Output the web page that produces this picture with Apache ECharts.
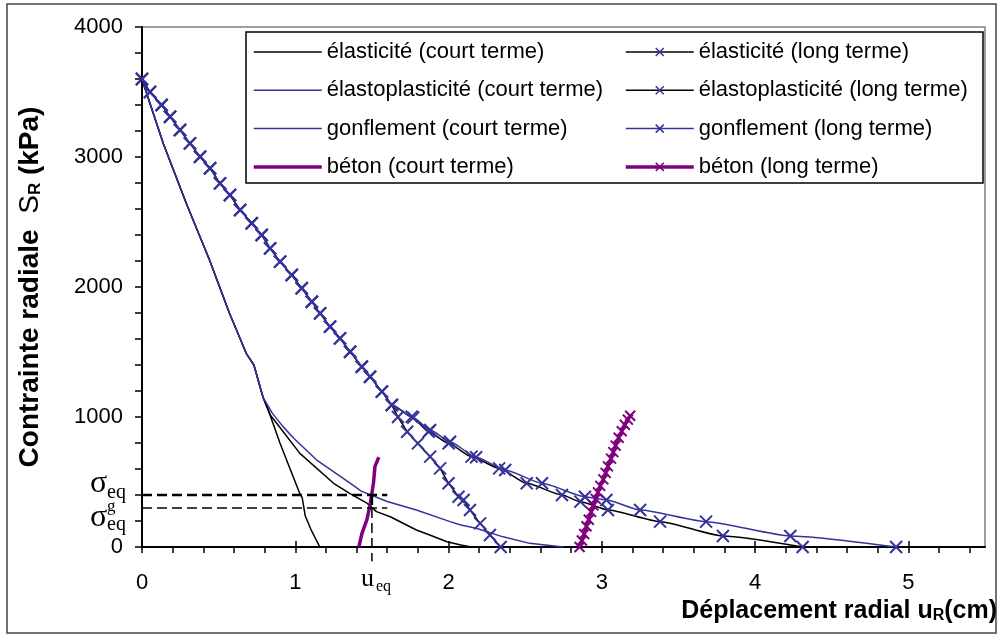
<!DOCTYPE html>
<html><head><meta charset="utf-8">
<script src="https://cdn.jsdelivr.net/npm/echarts@6/dist/echarts.min.js"></script>
<style>html,body{margin:0;padding:0;background:#fff}#c{width:1000px;height:637px}</style>
</head><body><div id="c"></div>
<script>
// ---------- data ----------
const seriesNames = [
  'élasticité (court terme)', 'élastoplasticité (court terme)', 'gonflement (court terme)', 'béton (court terme)',
  'élasticité (long terme)', 'élastoplasticité (long terme)', 'gonflement (long terme)', 'béton (long terme)'
];
const elasCourt = [[0,3600],[0.05,3420],[0.14,3100],[0.29,2640],[0.44,2210],[0.57,1800],[0.68,1490],[0.73,1400],[0.79,1150],[0.84,1000],[0.9,800],[0.96,620],[1.03,410],[1.045,380],[1.065,240],[1.1,140],[1.16,0]];
const elastoCourt = [[0,3600],[0.05,3420],[0.14,3100],[0.29,2640],[0.44,2210],[0.57,1800],[0.68,1490],[0.73,1400],[0.79,1150],[0.84,1010],[0.88,950],[1.03,720],[1.25,490],[1.36,408],[1.47,336],[1.53,272],[1.62,233],[1.79,131],[1.86,100],[1.99,40],[2.08,15],[2.15,0]];
const gonfCourt = [[0,3600],[0.05,3420],[0.14,3100],[0.29,2640],[0.44,2210],[0.57,1800],[0.68,1490],[0.73,1400],[0.79,1150],[0.85,1030],[0.92,926],[0.99,836],[1.14,669],[1.36,490],[1.43,430],[1.6,350],[1.79,285],[2.01,195],[2.08,169],[2.18,144],[2.35,80],[2.53,28],[2.75,0]];
const betonCourt = [[1.415,0],[1.435,105],[1.467,208],[1.49,336],[1.51,490],[1.52,620],[1.545,690]];
const elasLong = [[0,3600],[0.052,3500],[0.128,3400],[0.183,3310],[0.248,3208],[0.313,3105],[0.379,3002],[0.444,2913],[0.509,2797],[0.574,2708],[0.640,2592],[0.716,2490],[0.781,2400],[0.836,2297],[0.901,2195],[0.977,2092],[1.042,1990],[1.108,1887],[1.162,1797],[1.227,1695],[1.292,1605],[1.358,1502],[1.434,1387],[1.488,1310],[1.565,1195],[1.630,1092],[1.67,1000],[1.73,887],[1.80,797],[1.88,695],[1.945,605],[2.0,490],[2.065,387],[2.098,362],[2.14,285],[2.206,182],[2.27,92],[2.34,0]];
const elastoLong = [[0,3600],[0.052,3500],[0.128,3400],[0.183,3310],[0.248,3208],[0.313,3105],[0.379,3002],[0.444,2913],[0.509,2797],[0.574,2708],[0.640,2592],[0.716,2490],[0.781,2400],[0.836,2297],[0.901,2195],[0.977,2092],[1.042,1990],[1.108,1887],[1.162,1797],[1.227,1695],[1.292,1605],[1.358,1502],[1.434,1387],[1.488,1310],[1.565,1195],[1.630,1092],[1.76,1003],[1.87,887],[2.0,797],[2.15,695],[2.33,605],[2.51,490],[2.74,400],[2.86,349],[3.04,285],[3.38,195],[3.79,85],[4.31,0]];
const gonfLong = [[0,3600],[0.052,3500],[0.128,3400],[0.183,3310],[0.248,3208],[0.313,3105],[0.379,3002],[0.444,2913],[0.509,2797],[0.574,2708],[0.640,2592],[0.716,2490],[0.781,2400],[0.836,2297],[0.901,2195],[0.977,2092],[1.042,1990],[1.108,1887],[1.162,1797],[1.227,1695],[1.292,1605],[1.358,1502],[1.434,1387],[1.488,1310],[1.565,1195],[1.630,1092],[1.77,995],[1.88,900],[2.01,810],[2.18,690],[2.37,592],[2.61,490],[2.89,387],[3.03,362],[3.25,285],[3.68,195],[4.23,85],[4.92,0]];
const betonLong = [[2.855,0],[2.87,50],[2.885,100],[2.9,160],[2.915,210],[2.93,270],[2.945,320],[2.96,370],[2.975,420],[2.99,470],[3.01,520],[3.025,570],[3.04,620],[3.06,680],[3.075,730],[3.09,780],[3.11,840],[3.13,890],[3.15,940],[3.17,980],[3.185,1010]];
const sigmaEq = 400, sigmaEqG = 300, uEq = 1.5, guideEnd = 1.6, guideBelow = -110;
const xTickValues = [0,0.2,0.4,0.6,0.8,1,1.2,1.4,1.6,1.8,2,2.2,2.4,2.6,2.8,3,3.2,3.4,3.6,3.8,4,4.2,4.4,4.6,4.8,5,5.2,5.4];
const xLabelValues = [0,1,2,3,4,5];
const yTickValues = [0,200,400,600,800,1000,1200,1400,1600,1800,2000,2200,2400,2600,2800,3000,3200,3400,3600,3800,4000];
const yLabelValues = [0,1000,2000,3000,4000];
const xTitle = 'Déplacement radial u';
const yTitle = 'Contrainte radiale';

// ---------- styling ----------
const BLUE = '#333399', PURPLE = '#800080', BLACK = '#000000';
const SANS = 'Liberation Sans, Arial, sans-serif', SERIF = 'Liberation Serif, Times New Roman, serif';
const XSYM = 'path://M0,0L10,10M10,0L0,10';

function plain(name, data, color, width, z) {
  return { name, type: 'line', data, symbol: 'none', z: z || 2,
    lineStyle: { color, width }, itemStyle: { color }, emphasis: { disabled: true } };
}
function marked(name, data, lineColor, markColor, width, size, bw, z, smooth) {
  return { name, type: 'line', data, symbol: XSYM, symbolSize: size, showSymbol: true, z: z || 3,
    smooth: smooth || false, smoothMonotone: 'x',
    lineStyle: { color: lineColor, width },
    itemStyle: { color: markColor, borderColor: markColor, borderWidth: bw },
    emphasis: { disabled: true } };
}
function guide(data, width) {
  return { type: 'line', data, symbol: 'none', clip: false, z: 5, silent: true,
    lineStyle: { color: BLACK, width, type: [10, 5] } };
}

const chart = echarts.init(document.getElementById('c'), null, { renderer: 'canvas' });

const legendCommon = {
  orient: 'vertical', top: 41, padding: 0, itemWidth: 68, itemHeight: 10, itemGap: 16.3,
  selectedMode: false, textStyle: { fontSize: 22, color: BLACK, fontFamily: SANS }
};

const option = {
  animation: false,
  backgroundColor: '#ffffff',
  grid: { left: 142, right: 15, top: 27, bottom: 90, show: true, borderColor: '#808080', borderWidth: 1.5 },
  xAxis: [{
    type: 'value', min: 0, max: 5.5, interval: 1,
    axisLine: { lineStyle: { color: BLACK, width: 2 } },
    axisTick: { customValues: xTickValues, length: 6, lineStyle: { color: BLACK, width: 1.5 } },
    axisLabel: { customValues: xLabelValues, margin: 25, fontSize: 22, color: BLACK, fontFamily: SANS, formatter: v => String(v) },
    splitLine: { show: false },
    name: xTitle + '{s|R}(cm)', nameLocation: 'end', nameGap: 12,
    nameTextStyle: { fontSize: 25, fontWeight: 'bold', color: BLACK, fontFamily: SANS, align: 'right', verticalAlign: 'top',
      padding: [51, 0, 0, 0], rich: { s: { fontSize: 16, fontWeight: 'bold', fontFamily: SANS, verticalAlign: 'bottom', padding: [10, 0, 0, 0] } } }
  }, {
    type: 'value', min: 0, max: 5.5, interval: 1, position: 'bottom',
    axisLine: { show: false },
    axisTick: { customValues: xLabelValues, inside: true, length: 6, lineStyle: { color: BLACK, width: 1.5 } },
    axisLabel: { show: false }, splitLine: { show: false }
  }],
  yAxis: {
    type: 'value', min: 0, max: 4000, interval: 1000,
    axisLine: { show: true, lineStyle: { color: BLACK, width: 2 } },
    axisTick: { show: true, customValues: yTickValues, length: 7, lineStyle: { color: BLACK, width: 1.5 } },
    axisLabel: { customValues: yLabelValues, margin: 19, fontSize: 22, color: BLACK, fontFamily: SANS, formatter: v => String(v) },
    splitLine: { show: false },
    name: yTitle + '  {s|S}{r|R} (kPa)', nameLocation: 'middle', nameGap: 98, nameRotate: 90,
    nameTextStyle: { fontSize: 28, fontWeight: 'bold', color: BLACK, fontFamily: SANS,
      rich: { s: { fontSize: 28, fontWeight: 'normal', fontFamily: SANS }, r: { fontSize: 17, fontFamily: SANS, verticalAlign: 'bottom', padding: [11, 0, 0, 0] } } }
  },
  legend: [
    Object.assign({}, legendCommon, { left: 252, data: [
      { name: seriesNames[0], itemStyle: { opacity: 0 }, lineStyle: { color: BLACK, width: 1.5 } },
      { name: seriesNames[1], itemStyle: { opacity: 0 }, lineStyle: { color: BLUE, width: 1.5 } },
      { name: seriesNames[2], itemStyle: { opacity: 0 }, lineStyle: { color: BLUE, width: 1.5 } },
      { name: seriesNames[3], itemStyle: { opacity: 0 }, lineStyle: { color: PURPLE, width: 3.5 } }
    ] }),
    Object.assign({}, legendCommon, { left: 624, data: [
      { name: seriesNames[4], lineStyle: { color: BLACK, width: 1.5 }, itemStyle: { borderColor: BLUE, borderWidth: 1.5 } },
      { name: seriesNames[5], lineStyle: { color: BLACK, width: 1.5 }, itemStyle: { borderColor: BLUE, borderWidth: 1.5 } },
      { name: seriesNames[6], lineStyle: { color: BLUE, width: 1.5 }, itemStyle: { borderColor: BLUE, borderWidth: 1.5 } },
      { name: seriesNames[7], lineStyle: { color: PURPLE, width: 3.5 }, itemStyle: { borderColor: PURPLE, borderWidth: 1.5 } }
    ] })
  ],
  series: [
    plain(seriesNames[0], elasCourt, BLACK, 1.5, 2),
    plain(seriesNames[1], elastoCourt, BLACK, 1.5, 2),
    plain(seriesNames[2], gonfCourt, BLUE, 1.5, 2),
    marked(seriesNames[4], elasLong, BLACK, BLUE, 1.5, 12, 2, 3),
    marked(seriesNames[5], elastoLong, BLACK, BLUE, 1.5, 12, 2, 3, 0.2),
    marked(seriesNames[6], gonfLong, BLUE, BLUE, 1.5, 12, 2, 3, 0.2),
    plain(seriesNames[3], betonCourt, PURPLE, 3.5, 4),
    marked(seriesNames[7], betonLong, PURPLE, PURPLE, 3.5, 10, 2, 4),
    guide([[0, sigmaEq], [guideEnd, sigmaEq]], 2.5),
    guide([[0, sigmaEqG], [guideEnd, sigmaEqG]], 1.5),
    guide([[uEq, sigmaEq], [uEq, sigmaEqG]], 2.5),
    guide([[uEq, sigmaEqG], [uEq, guideBelow]], 1.5)
  ]
};
chart.setOption(option);

// labels σeq, σgeq and ueq placed through the chart's own scales
const pEq = chart.convertToPixel({ gridIndex: 0 }, [0, sigmaEq]);
const pG = chart.convertToPixel({ gridIndex: 0 }, [0, sigmaEqG]);
const pU = chart.convertToPixel({ gridIndex: 0 }, [uEq, 0]);
function txt(text, x, y, size) {
  return { type: 'text', x, y, z: 10, silent: true,
    style: { text, fontSize: size, fontFamily: SERIF, fill: BLACK, align: 'left', verticalAlign: 'middle' } };
}
chart.setOption({
  graphic: [
    { type: 'rect', z: 0, silent: true, shape: { x: 7, y: 4, width: 989, height: 629 }, style: { fill: null, stroke: '#444', lineWidth: 1.5 } },
    { type: 'rect', z: 3, silent: true, shape: { x: 246, y: 32, width: 737, height: 151 }, style: { fill: '#fff', stroke: BLACK, lineWidth: 1.5 } },
    txt('σ', pEq[0] - 52, pEq[1] - 11, 32),
    txt('eq', pEq[0] - 35, pEq[1] - 2, 20),
    txt('σ', pG[0] - 52, pG[1] + 10, 32),
    txt('g', pG[0] - 35, pG[1] - 1, 17),
    txt('eq', pG[0] - 35, pG[1] + 17, 20),
    txt('u', pU[0] - 11, pU[1] + 32, 26),
    txt('eq', pU[0] + 4, pU[1] + 40, 16)
  ]
});
</script>
</body></html>
